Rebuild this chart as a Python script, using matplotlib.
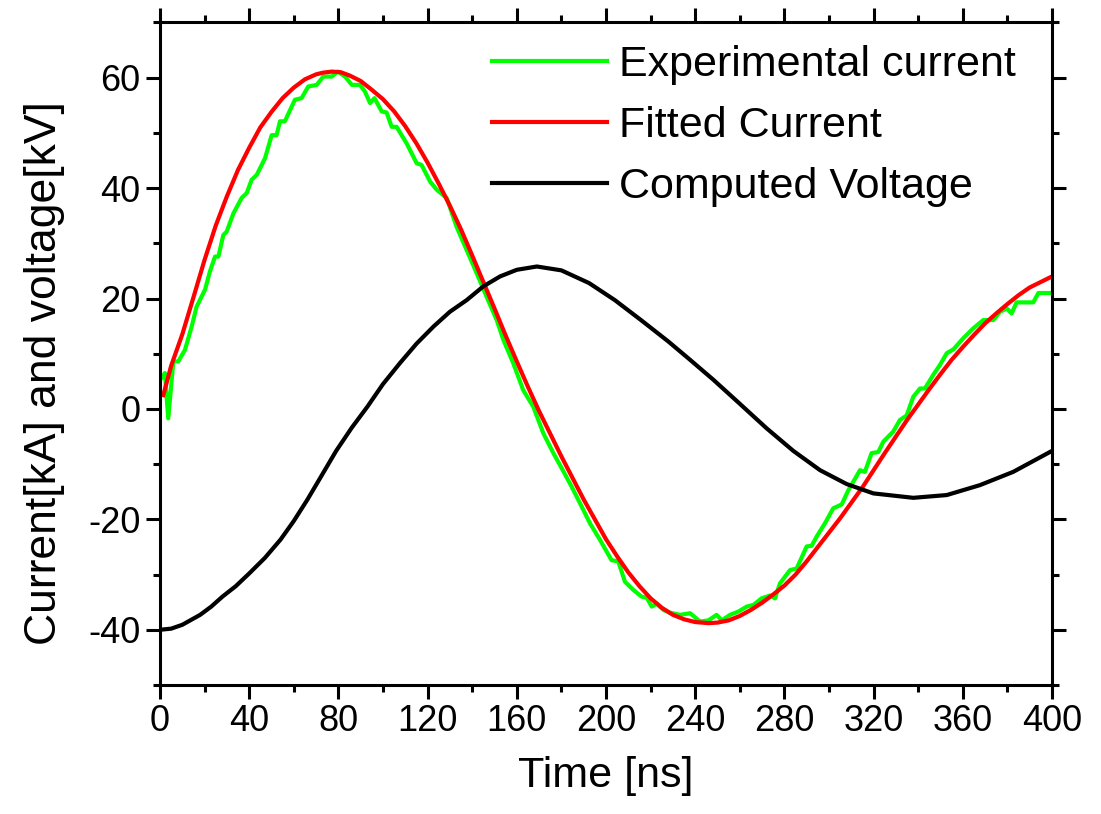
import matplotlib
matplotlib.use('Agg')
import matplotlib.pyplot as plt
from matplotlib.ticker import MultipleLocator

plt.rcParams['font.family'] = ['Liberation Sans', 'DejaVu Sans']
plt.rcParams['axes.unicode_minus'] = False

# experimental current
t_exp = [0, 2.2, 3.7, 6, 8.2, 11.2, 14.2, 16.4, 20.2, 22.4, 24.7, 26.2, 28.4, 29.9,
         32.9, 36.6, 38.9, 41.1, 43.4, 47.1, 50.1, 52.3, 53.8, 56, 60.5, 63.5, 66.5,
         70.3, 73.2, 77, 79.7, 83, 86, 89.7, 91.9, 94.2, 96.2, 99.4, 101.6, 103.9,
         106.1, 110.6, 115.1, 117.3, 121.1, 124.1, 128.6, 133, 137.5, 142, 146.5,
         151, 154, 158.4, 162.9, 167.4, 171.9, 176.4, 180.1, 184.5, 188.5, 192.8,
         197.3, 202.5, 205.5, 208.5, 212.3, 216, 218.3, 220.5, 222.8, 225.7, 228.7,
         233.2, 237.7, 242.2, 245.9, 249.6, 251.9, 255.6, 259.4, 263.1, 266.1, 269.8,
         273.6, 275.8, 278, 282.5, 285.5, 290, 292.2, 294.5, 298.2, 301.9, 305.7,
         308.7, 313.9, 316.1, 319.1, 322.1, 324.4, 328.8, 331.8, 334.8, 337.8, 340.8,
         343, 346.8, 349.8, 352.8, 355.8, 360.2, 364.7, 369.2, 373.7, 376.7, 379.7,
         381.9, 384.1, 391.6, 393.9, 400]
i_exp = [5.2, 6.5, -1.7, 8.6, 8.6, 10.7, 14.9, 18.5, 21.6, 24.9, 27.6, 27.6, 31.5, 32.1,
         35.4, 38.2, 39.1, 41.5, 42.4, 45.4, 49.6, 49.6, 52.1, 52.1, 56, 56.3, 58.4,
         58.7, 60.2, 60.2, 61.1, 60.2, 58.7, 58.7, 57.5, 55.4, 56.3, 53.9, 53.7, 51.1,
         51.1, 48.1, 44.5, 44.2, 41.2, 39.7, 38.2, 33, 28.8, 24.6, 20.3,
         16.1, 12.5, 8.3, 3.4, 0.4, -4.4, -8, -10.7, -14, -17.2, -20.7,
         -23.7, -27.4, -27.6, -31.3, -32.8, -34, -34.2, -35.8, -35.3, -36.4, -36.9,
         -37.3, -37, -38.5, -38.3, -37.3, -38.3, -37.3, -36.7, -35.8, -35.5, -34.3,
         -33.8, -34.3, -31.6, -29.2, -28.9, -24.9, -24.8, -23.1, -20.7, -18, -17.3,
         -14.7, -11.1, -11.4, -8, -7.8, -5.9, -4.1, -2, -1.2, 2.2, 3.7,
         3.7, 6.2, 8, 10.1, 10.8, 12.8, 14.6, 16.1, 16.1, 17.6, 18.2,
         17.3, 19.3, 19.3, 21, 21]

# fitted current
t_fit = [1.5, 5, 10, 15, 20, 25, 30, 35, 40, 45, 50, 55, 60, 65, 70, 73, 77, 81, 85,
         90, 95, 100, 105, 110, 115, 120, 125, 130, 135, 140, 145, 150, 155, 160, 165,
         170, 175, 180, 185, 190, 195, 200, 205, 210, 215, 220, 225, 230, 235, 240,
         246, 250, 255, 260, 265, 270, 275, 280, 285, 290, 295, 300, 305, 310, 315,
         320, 325, 330, 335, 340, 345, 350, 355, 360, 365, 370, 375, 380, 385, 390,
         395, 400]
i_fit = [2.5, 7.8, 13.5, 20.2, 27, 33.2, 38.5, 43.3, 47.3, 51, 53.8, 56.3, 58.2, 59.7,
         60.6, 60.9, 61.1, 61, 60.4, 59.4, 57.8, 56.1, 53.9, 51.2, 48.1, 44.6, 40.8,
         36.8, 32.5, 27.8, 23, 18.2, 13.3, 8.6, 4, -0.4, -4.5, -8.6, -12.5, -16.4, -20,
         -23.6, -26.7, -29.6, -32.1, -34.3, -36, -37.3, -38.1, -38.6, -38.8, -38.7,
         -38.3, -37.5, -36.4, -35.1, -33.6, -32, -30, -27.6, -25, -22.4, -19.8, -17,
         -14.2, -11.1, -8, -5, -2, 0.8, 3.6, 6.3, 8.9, 11.2, 13.4, 15.5, 17.3, 19,
         20.6, 22, 23, 24]

# computed voltage
t_volt = [0, 5, 10, 18, 23, 28, 34, 40, 47, 54, 60, 66, 72, 79, 86, 93, 100, 107.6,
          115, 122.6, 130, 137.5, 145, 152.5, 160, 169, 180, 192.4, 204, 216, 228,
          237.7, 248.1, 260.1, 272, 284, 296, 307.9, 319.9, 337.8, 352.8, 367.7,
          382.6, 400]
v_volt = [-40, -39.8, -39.1, -37.3, -35.8, -34, -32.1, -29.8, -27, -23.7, -20.3, -16.5,
          -12.4, -7.6, -3.4, 0.4, 4.5, 8.3, 11.8, 14.9, 17.6, 19.7, 22.2, 24, 25.2,
          25.8, 25.1, 22.8, 19.7, 16, 12.2, 8.9, 5.3, 0.9, -3.5, -7.6, -11.1, -13.6,
          -15.3, -16.1, -15.6, -13.8, -11.4, -7.6]

fig = plt.figure(figsize=(11.01, 8.14), dpi=100)
ax = fig.add_axes([0.1453, 0.1585, 0.8102, 0.8139])

ax.plot(t_exp, i_exp, color='#00ff00', lw=3, label='Experimental current')
ax.plot(t_fit, i_fit, color='#ff0000', lw=3, label='Fitted Current')
ax.plot(t_volt, v_volt, color='black', lw=3, label='Computed Voltage')

ax.set_xlim(0, 400)
ax.set_ylim(-50, 70)
ax.xaxis.set_major_locator(MultipleLocator(40))
ax.xaxis.set_minor_locator(MultipleLocator(20))
ax.set_yticks([-40, -20, 0, 20, 40, 60])
ax.yaxis.set_minor_locator(MultipleLocator(10))

ax.tick_params(which='both', direction='out', top=True, right=True, width=2.2,
               labelsize=26, pad=4)
ax.tick_params(which='major', length=10)
ax.tick_params(which='minor', length=5)
for s in ax.spines.values():
    s.set_linewidth(2.2)

ax.set_xlabel('Time [ns]', fontsize=31, labelpad=12)
ax.set_ylabel('Current[kA] and voltage[kV]', fontsize=32)
ax.yaxis.set_label_coords(-0.107, 0.47)

ax.legend(loc='upper right', frameon=False, fontsize=31, handlelength=2.65,
          handletextpad=0.28, labelspacing=0.48, borderaxespad=0.2,
          bbox_to_anchor=(0.988, 1.0045))

fig.savefig('out.png', dpi=100)
